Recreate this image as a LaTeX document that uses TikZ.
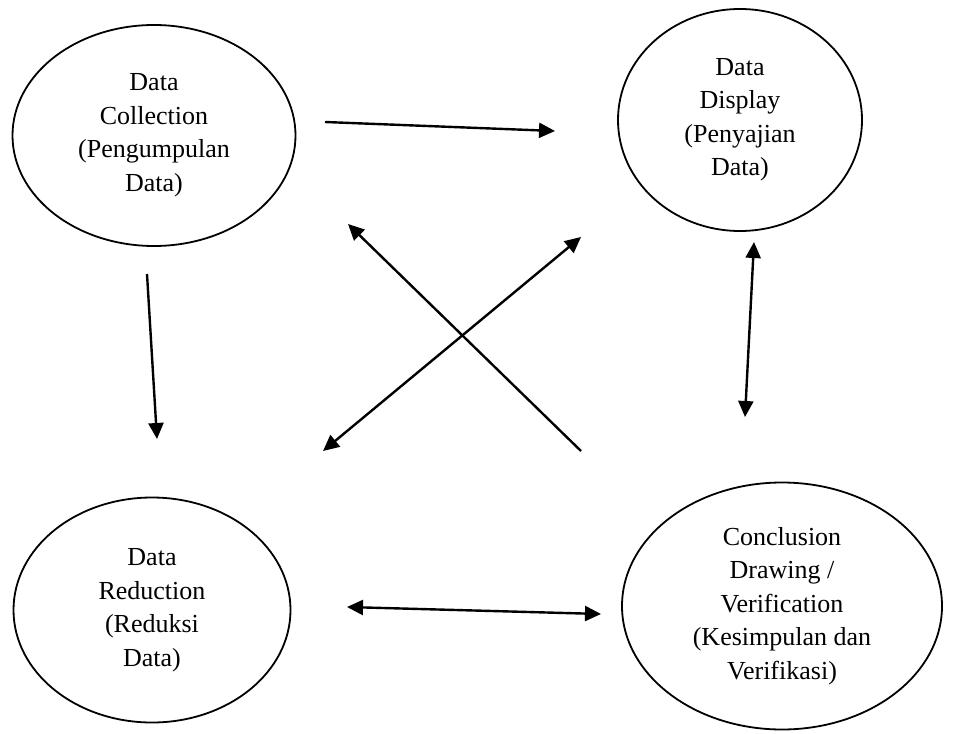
\documentclass[tikz,border=0pt]{standalone}
\usepackage{fontspec}
\setmainfont{Liberation Serif}
\usetikzlibrary{shapes.geometric,arrows.meta}

\tikzset{
  stage/.style={ellipse, draw=black, line width=1.8pt, inner sep=0pt,
    align=center, font=\fontsize{26}{33.5}\selectfont},
  flow/.style={line width=2.4pt, -{Triangle[length=16pt,width=15pt]}},
  twoway/.style={line width=2.4pt, {Triangle[length=16pt,width=15pt]}-{Triangle[length=16pt,width=15pt]}},
}

\begin{document}
\begin{tikzpicture}[x=1pt,y=-1pt]
  \useasboundingbox (0,0) rectangle (955,733);

  % the four stages of the analysis cycle
  \node[stage, minimum width=283pt, minimum height=221pt] (collect) at (154,135.5)
    {Data\\Collection\\(Pengumpulan\\Data)};
  \node[stage, minimum width=244pt, minimum height=222pt] (display) at (740,120)
    {Data\\Display\\(Penyajian\\Data)};
  \node[stage, minimum width=277pt, minimum height=225pt] (reduce) at (152,610)
    {Data\\Reduction\\(Reduksi\\Data)};
  \node[stage, minimum width=320pt, minimum height=247pt] (conclude) at (782,606)
    {Conclusion\\Drawing /\\Verification\\(Kesimpulan dan\\Verifikasi)};

  % end points of the connectors in the gaps between the stages
  \coordinate (cd1) at (325,122);  \coordinate (cd2) at (555,131);
  \coordinate (cr1) at (147,274);  \coordinate (cr2) at (157,439);
  \coordinate (kc1) at (581,451);  \coordinate (kc2) at (348,224);
  \coordinate (rd1) at (323,451);  \coordinate (rd2) at (581,237);
  \coordinate (dk1) at (754,242);  \coordinate (dk2) at (745,417);
  \coordinate (rk1) at (347,607);  \coordinate (rk2) at (601,614);

  \draw[flow]   (cd1) -- (cd2);
  \draw[flow]   (cr1) -- (cr2);
  \draw[flow]   (kc1) -- (kc2);
  \draw[twoway] (rd1) -- (rd2);
  \draw[twoway] (dk1) -- (dk2);
  \draw[twoway] (rk1) -- (rk2);
\end{tikzpicture}
\end{document}
